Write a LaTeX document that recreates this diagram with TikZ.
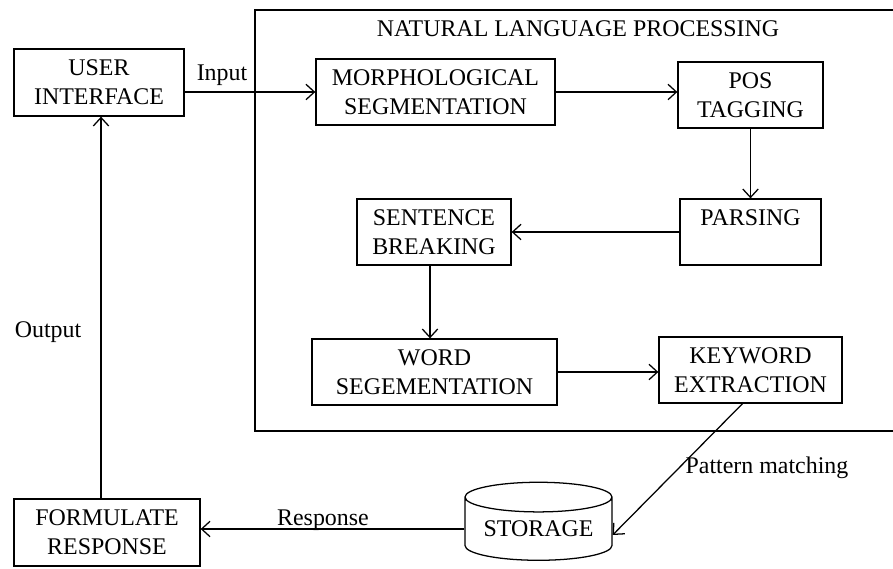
\documentclass[tikz,border=0pt]{standalone}
\usepackage{fontspec}
\setmainfont{Liberation Serif}
\usetikzlibrary{arrows.meta,shapes.geometric}
\tikzset{
>={Straight Barb[length=6pt,width=11pt]},
blocco/.style={draw,line width=0.9pt,align=center,inner sep=0pt,minimum height=1.65cm},
freccia/.style={->,line width=0.9pt},
etichetta/.style={inner sep=1pt}}

\begin{document}
\begin{tikzpicture}[x=0.025cm,y=-0.025cm,font=\fontsize{17}{20.6}\selectfont]

\useasboundingbox (0,0) rectangle (893,569);
\clip (0,0) rectangle (893,569);

% cornice NLP
\draw[line width=0.9pt] (255,10) rectangle (905,431);
\node (titolo) at (578,29) {NATURAL LANGUAGE PROCESSING};

\node[blocco,minimum width=4.25cm,minimum height=1.675cm] (ui) at (99,82.5) {USER\\INTERFACE};
\node[blocco,minimum width=5.975cm] (morf) at (435.5,92) {MORPHOLOGICAL\\SEGMENTATION};
\node[blocco,minimum width=3.625cm] (pos) at (750.5,95) {POS\\TAGGING};
\node[blocco,minimum width=3.525cm] (pars) at (750.5,232) {PARSING\\\phantom{P}};
\node[blocco,minimum width=3.85cm] (frase) at (434,232) {SENTENCE\\BREAKING};
\node[blocco,minimum width=6.125cm] (parola) at (434.5,372) {WORD\\SEGEMENTATION};
\node[blocco,minimum width=4.575cm] (chiave) at (750.5,370) {KEYWORD\\EXTRACTION};
\node[draw,line width=0.9pt,cylinder,shape border rotate=90,aspect=0.27,
  minimum width=3.675cm,minimum height=1.95cm,inner sep=0pt] (arch) at (538.5,529) {STORAGE};
\node[blocco,minimum width=4.65cm,minimum height=1.675cm] (risp) at (107,532.5) {FORMULATE\\RESPONSE};

\path[freccia] (ui.east |- morf) edge (morf);
\path[freccia] (morf) edge (morf -| pos.west);
\path[freccia] (pos) edge (pars);
\path[freccia] (pars) edge (frase);
\path[freccia] (frase.south -| 430,0) edge (parola.north -| 430,0);
\path[freccia] (parola) edge (parola -| chiave.west);
\path[freccia] ([xshift=-0.2cm]chiave.south) edge ([yshift=-0.15cm]arch.east);
\path[freccia] (arch.west) edge (arch.west -| risp.east);
\path[freccia] (risp.north -| 101,0) edge (ui.south -| 101,0);

\node[etichetta] (lin) at (222,75) {Input};
\node[etichetta] (lout) at (48,332) {Output};
\node[etichetta] (lrisp) at (323,520) {Response};
\node[etichetta] (lpatt) at (767,468) {Pattern matching};

\end{tikzpicture}
\end{document}
